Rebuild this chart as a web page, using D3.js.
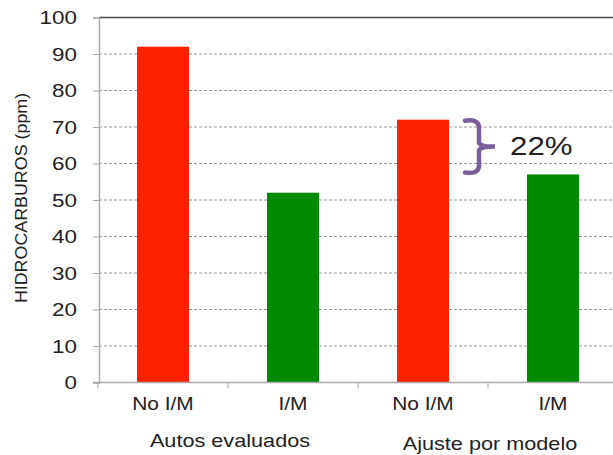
<!DOCTYPE html>
<html>
<head>
<meta charset="utf-8">
<script src="https://cdn.jsdelivr.net/npm/d3@7"></script>
<style>
  body { margin: 0; background: #fff; }
  text { font-family: "Liberation Sans", Arial, sans-serif; fill: #222; }
  .grid line { stroke: #999; stroke-dasharray: 3,2; }
</style>
</head>
<body>
<div class="container"></div>
<script>
const WIDTH = 613;
const HEIGHT = 455;

var categories = ["No I/M a", "I/M a", "No I/M b", "I/M b"];
var catLabels = ["No I/M", "I/M", "No I/M", "I/M"];
var values = [92, 52, 72, 57];
var colors = ["#ff2200", "#008a00", "#ff2200", "#008a00"];
var groups = ["Autos evaluados", "Ajuste por modelo"];
var yTicks = [0, 10, 20, 30, 40, 50, 60, 70, 80, 90, 100];
var reduction = "22%";

var translate = function(x, y) {
    return `translate(${x},${y})`;
};

// the original picture is a bit wider than tall, so widen the text a little
var stretch = function(sel, k) {
    sel.each(function() {
        var w = this.getComputedTextLength();
        d3.select(this).attr('textLength', w * k).attr('lengthAdjust', 'spacingAndGlyphs');
    });
};

var svg = d3.select('.container').append('svg')
    .attr('width', WIDTH)
    .attr('height', HEIGHT);

let xScale = d3.scaleBand()
    .domain(categories)
    .range([98, 618])
    .paddingInner(0.6)
    .paddingOuter(0.3);

let yScale = d3.scaleLinear()
    .domain([0, 100])
    .range([382.5, 17.5]);

// grid
svg.append('g').classed('grid', true)
    .selectAll('line').data(yTicks.slice(1, -1)).enter()
    .append('line')
    .attr('x1', 99).attr('x2', WIDTH)
    .attr('y1', (d) => yScale(d)).attr('y2', (d) => yScale(d));

// top line at 100
svg.append('line')
    .attr('x1', 99).attr('x2', WIDTH)
    .attr('y1', yScale(100)).attr('y2', yScale(100))
    .attr('stroke', '#444').attr('stroke-width', 1.5);

// bars
svg.append('g').selectAll('rect').data(values).enter()
    .append('rect')
    .attr('x', (d, i) => xScale(categories[i]))
    .attr('y', (d) => yScale(d))
    .attr('width', xScale.bandwidth())
    .attr('height', (d) => yScale(0) - yScale(d))
    .attr('fill', (d, i) => colors[i]);

// y axis
let yAxis = d3.axisLeft(yScale).tickValues(yTicks).tickSize(6).tickPadding(16);
var yg = svg.append('g')
    .attr('transform', translate(99, 0))
    .call(yAxis);
yg.select('.domain').attr('stroke', '#aaa').attr('stroke-width', 1.5);
yg.selectAll('.tick line').attr('stroke', '#aaa');
yg.selectAll('.tick text').style('font-size', '19px').attr('fill', '#222');
stretch(yg.selectAll('.tick text'), 1.18);

// x axis (ticks at band edges)
var edges = categories.map((c) => xScale(c) - xScale.step() * xScale.paddingOuter());
let xAxis = d3.axisBottom(xScale).tickSize(0).tickPadding(14).tickFormat((d, i) => catLabels[i]);
var xg = svg.append('g')
    .attr('transform', translate(0, yScale(0)))
    .call(xAxis);
xg.select('.domain').remove();
xg.append('line').attr('x1', 93).attr('x2', WIDTH).attr('stroke', '#aaa').attr('stroke-width', 1.5);
xg.selectAll('.edge').data(edges).enter()
    .append('line')
    .attr('x1', (d) => d).attr('x2', (d) => d)
    .attr('y1', 0).attr('y2', 6)
    .attr('stroke', '#aaa');
xg.selectAll('.tick text').style('font-size', '19px').attr('fill', '#222');
stretch(xg.selectAll('.tick text'), 1.1);

// group labels
var gl = svg.selectAll('.group').data(groups).enter()
    .append('text')
    .attr('x', (d, i) => (xScale(categories[i * 2]) + xScale(categories[i * 2 + 1]) + xScale.bandwidth()) / 2 + 2)
    .attr('y', (d, i) => i === 0 ? 447 : 450)
    .attr('text-anchor', 'middle')
    .style('font-size', '19px')
    .text((d) => d);
stretch(gl, 1.14);

// y title
var yt = svg.append('text')
    .attr('transform', translate(27, 198) + ' rotate(-90)')
    .attr('text-anchor', 'middle')
    .style('font-size', '17px')
    .text('HIDROCARBUROS (ppm)');
stretch(yt, 1.05);

// brace between the two adjusted bars
var bTop = yScale(values[2]);
var bBot = yScale(values[3]) - 1;
var bMid = (bTop + bBot) / 2;
var bx = 465;
var brace = d3.path();
brace.moveTo(bx, bTop + 1);
brace.quadraticCurveTo(bx + 14, bTop - 1, bx + 14, bTop + 8);
brace.lineTo(bx + 14, bMid - 4);
brace.quadraticCurveTo(bx + 14, bMid, bx + 30, bMid);
brace.quadraticCurveTo(bx + 14, bMid, bx + 14, bMid + 4);
brace.lineTo(bx + 14, bBot - 8);
brace.quadraticCurveTo(bx + 14, bBot + 1, bx, bBot - 1);
svg.append('path')
    .attr('d', brace.toString())
    .attr('fill', 'none')
    .attr('stroke', '#7a5f9a')
    .attr('stroke-width', 4.5)
    .attr('stroke-linecap', 'round');

var pct = svg.append('text')
    .attr('x', 510)
    .attr('y', bMid + 8)
    .style('font-size', '25px')
    .attr('fill', '#111')
    .text(reduction);
stretch(pct, 1.25);
</script>
</body>
</html>
